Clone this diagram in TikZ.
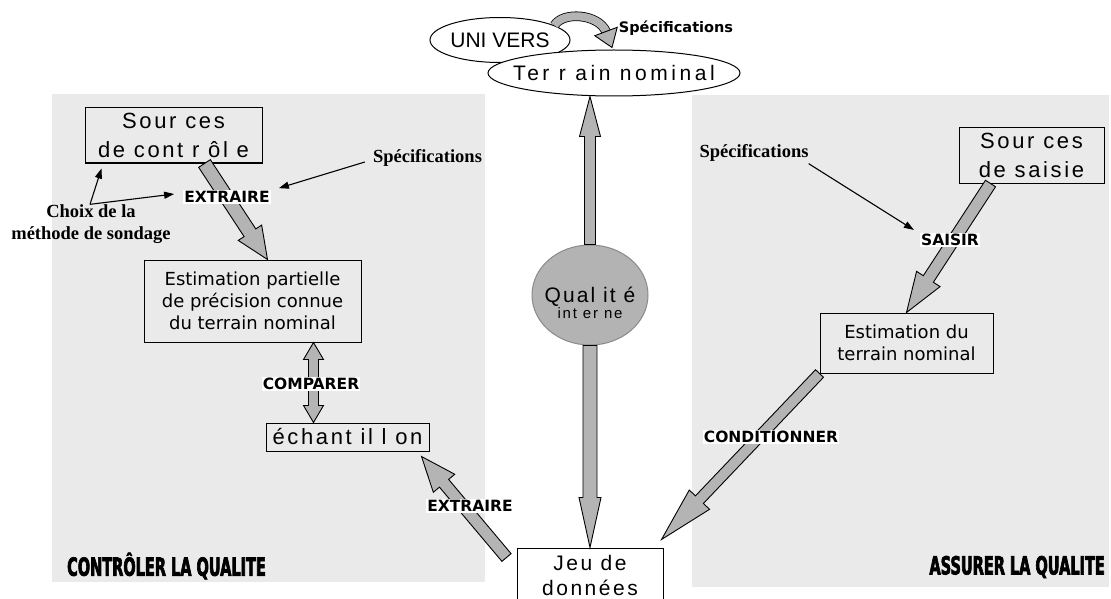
\documentclass[tikz,border=0pt]{standalone}
\usepackage{fontspec}
\usetikzlibrary{calc,shapes.geometric,arrows.meta}
\newfontfamily\arialf{Liberation Sans}
\newfontfamily\arialsp[LetterSpace=12]{Liberation Sans}
\newfontfamily\arialspw[LetterSpace=17]{Liberation Sans}
\newfontfamily\arialspq[LetterSpace=10]{Liberation Sans}
\newfontfamily\verdf{DejaVu Sans}
\newfontfamily\timesf{Liberation Serif}
\newfontfamily\impactf[FakeStretch=0.58,FakeBold=2.5]{DejaVu Sans}
\definecolor{panelgray}{HTML}{EAEAEA}
\definecolor{arrgray}{HTML}{B4B4B4}
\definecolor{circfill}{HTML}{B3B3B3}
\definecolor{circline}{HTML}{8A8A8A}
\newcommand\blockarr[5]{%
  \coordinate (bA) at #1;
  \coordinate (bB) at #2;
  \coordinate (bH) at ($(bB)!#5!(bA)$);
  \draw[blk] ($(bA)!#3!90:(bB)$) -- ($(bH)!#3!-90:(bA)$) -- ($(bH)!#4!-90:(bA)$) -- (bB)
    -- ($(bH)!#4!90:(bA)$) -- ($(bH)!#3!90:(bA)$) -- ($(bA)!#3!-90:(bB)$) -- cycle;
}
\begin{document}
\begin{tikzpicture}[x=1pt,y=-1pt,
  panel/.style={fill=panelgray, draw=none, inner sep=0pt, anchor=north west},
  blk/.style={draw=black, fill=arrgray, line width=0.9pt, line join=miter},
  box/.style={draw=black, line width=1pt, inner sep=0pt, align=center},
  ell/.style={ellipse, draw=black, line width=1pt, inner sep=0pt},
  boxtxt/.style={font=\arialsp\fontsize{22}{29}\selectfont},
  esttxt/.style={font=\verdf\fontsize{18}{22}\selectfont},
  lbl/.style={fill=white, inner sep=1pt, font=\verdf\bfseries\fontsize{15.5}{17}\selectfont},
  spectxt/.style={inner sep=0pt, align=center, font=\timesf\bfseries\fontsize{18.5}{22}\selectfont},
  titletxt/.style={inner sep=0pt, font=\impactf\bfseries\fontsize{25}{28}\selectfont},
  thinarr/.style={-{Triangle[length=10pt,width=7pt]}, line width=1.1pt},
]
\useasboundingbox (0,0) rectangle (1111,599);
% panels
\node[panel, minimum width=433pt, minimum height=488pt] (lpanel) at (52,94) {};
\node[panel, minimum width=417pt, minimum height=492pt] (rpanel) at (692,95) {};
% top ellipses
\node[ell, fill=white, minimum width=140pt, minimum height=45pt] (univ) at (500,40) {};
\node[inner sep=0pt, font=\arialf\fontsize{21}{24}\selectfont] (univtxt) at (univ.center) {UNI VERS};
\node[ell, fill=white, minimum width=252pt, minimum height=46pt] (terr) at (614,73) {};
\node[inner sep=0pt, font=\arialspw\fontsize{21}{24}\selectfont] (terrtxt) at (terr.center) {Ter r ain nominal};
% curved arrow
\coordinate (cS) at (univ.15);
\coordinate (cT) at ($(terr.north)+(-2,-2)$);
\coordinate (cE) at ($(cT)+(-6,-16)$);
\draw[line width=0.8pt, double=arrgray, double distance=8pt] (cS) .. controls ($(cS)+(8,-14)$) and ($(cE)+(-8,-18)$) .. (cE);
\draw[blk] ($(cE)!12pt!90:(cT)$) -- (cT) -- ($(cE)!12pt!-90:(cT)$) -- cycle;
\node[inner sep=0pt, font=\verdf\bfseries\fontsize{14.5}{16}\selectfont] (spec0) at (676,28) {Spécifications};
% centre
\node[ellipse, draw=circline, fill=circfill, line width=1pt, minimum width=116pt, minimum height=100pt, inner sep=0pt] (qual) at (590,295) {};
\node[inner sep=0pt, align=center] (qualtxt) at (590,303) {{\arialspq\fontsize{21}{25}\selectfont Qual it é}\\{\arialsp\fontsize{15}{15}\selectfont int er ne}};
\node[box, minimum width=146pt, minimum height=62pt] (jeu) at (590,579) {};
\node[inner sep=0pt, align=center, font=\arialsp\fontsize{21}{25}\selectfont] (jeutxt) at (590,575) {Jeu de\\données};
% left side
\node[box, boxtxt, minimum width=177pt, minimum height=55pt] (src1) at (173.5,135.5) {Sour ces\\de cont r ôl e};
\node[box, esttxt, minimum width=217pt, minimum height=82pt] (est1) at (252.5,301) {Estimation partielle\\de précision connue\\du terrain nominal};
\node[box, boxtxt, minimum width=163pt, minimum height=28pt] (ech) at (347.5,437) {échant il l on};
% right side
\node[box, boxtxt, minimum width=145pt, minimum height=55pt] (src2) at (1031.5,155.5) {Sour ces\\de saisie};
\node[box, esttxt, minimum width=173pt, minimum height=60pt] (est2) at (906.5,343) {Estimation du\\terrain nominal};
% block arrows
\blockarr{($(src1.south)+(31,0)$)}{($(est1.north)+(15,0)$)}{7pt}{14pt}{32pt}
\blockarr{(qual.north)}{(qual.north |- terr.south)}{5.5pt}{10.5pt}{40pt}
\blockarr{(qual.south)}{(qual.south |- jeu.north)}{7pt}{11pt}{50pt}
\coordinate (cmpA) at ($(est1.south east)+(-48,0)$);
\coordinate (cmpB) at (cmpA |- ech.north);
\coordinate (cmpM) at ($(cmpA)!0.5!(cmpB)$);
\blockarr{(cmpM)}{(cmpA)}{5pt}{10pt}{17pt}
\blockarr{(cmpM)}{(cmpB)}{5pt}{10pt}{17pt}
\blockarr{($(jeu.north west)+(-10,10)$)}{($(ech.south east)+(-8,5)$)}{6pt}{14pt}{35pt}
\blockarr{($(src2.south)+(-41,0)$)}{(est2.north)}{6pt}{14pt}{40pt}
\blockarr{(est2.south west)}{($(jeu.north east)+(-2,-8)$)}{5.5pt}{14pt}{55pt}
% labels
\node[lbl] (ex1) at (227,197) {EXTRAIRE};
\node[lbl] (cmp) at (311,384) {COMPARER};
\node[lbl] (ex2) at (470,506) {EXTRAIRE};
\node[lbl] (sai) at (950,240) {SAISIR};
\node[lbl] (cond) at (771,437) {CONDITIONNER};
% specification texts
\node[spectxt] (spec1) at (427.5,158) {Spécifications};
\node[spectxt] (choix) at (91,224) {Choix de la\\méthode de sondage};
\node[spectxt] (spec2) at (754,153) {Spécifications};
\draw[thinarr] ($(spec1.west)+(-8,4)$) -- ($(ex1.north east)+(8,-2)$);
\coordinate (chO) at ($(choix.north)+(-1,0)$);
\draw[thinarr] (chO) -- ($(src1.south west)+(17,5)$);
\draw[thinarr] (chO) -- ($(ex1.west)+(-9,-3)$);
\draw[thinarr] ($(spec2.south east)+(0,2)$) -- ($(sai.north west)+(-6,-3)$);
% titles
\node[titletxt, anchor=west] (t1) at (67,566) {CONTRÔLER LA QUALITE};
\node[titletxt, anchor=east] (t2) at (1105,567) {ASSURER LA QUALITE};
\end{tikzpicture}
\end{document}
